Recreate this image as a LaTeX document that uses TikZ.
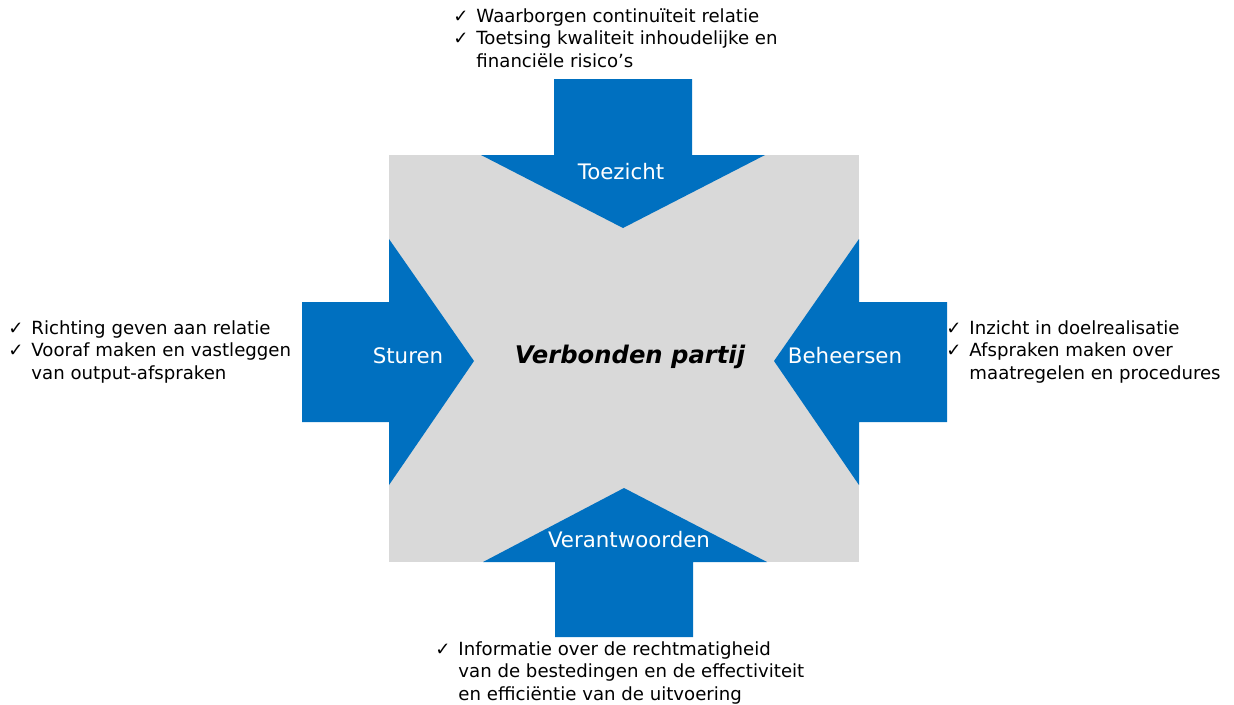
\documentclass[tikz,border=0pt]{standalone}
\usepackage{fontspec}
\setmainfont{DejaVu Sans}
\definecolor{arrblue}{HTML}{0070C0}
\definecolor{boxgray}{HTML}{D9D9D9}
\begin{document}
\begin{tikzpicture}[x=0.75pt,y=-0.75pt,
  arrowshape/.style={fill=arrblue,draw=none},
  lbl/.style={text=white,font=\fontsize{16}{19}\selectfont,inner sep=0pt},
  listtxt/.style={anchor=north west,inner sep=0pt,align=left,font=\fontsize{13.6}{16.9}\selectfont}]
\useasboundingbox (0,0) rectangle (1234,704);
% gray centre
\fill[boxgray] (389,155) rectangle (859,562);
% top arrow
\fill[arrowshape] (554,79) -- (692,79) -- (692,155) -- (765,155) -- (623,228) -- (481,155) -- (554,155) -- cycle;
% bottom arrow
\fill[arrowshape] (555,637) -- (693,637) -- (693,562) -- (767,562) -- (624,488) -- (483,562) -- (555,562) -- cycle;
% left arrow
\fill[arrowshape] (302,302) -- (389,302) -- (389,239) -- (474,361) -- (389,485) -- (389,422) -- (302,422) -- cycle;
% right arrow
\fill[arrowshape] (947,302) -- (859,302) -- (859,239) -- (774,361) -- (859,485) -- (859,422) -- (947,422) -- cycle;
% labels
\node[lbl] (toezicht) at (621,172) {Toezicht};
\node[lbl] (sturen) at (408,356) {Sturen};
\node[lbl] (beheersen) at (845,356) {Beheersen};
\node[lbl] (verant) at (629,540) {Verantwoorden};
\node[inner sep=0pt,font=\fontsize{18.2}{22}\selectfont\bfseries\itshape] (centre) at (630,357) {Verbonden partij};
% lists
\node[listtxt] (toplist) at (453,6) {\begin{tabular}{@{}l@{\hspace{6pt}}l@{}}✓ & Waarborgen continuïteit relatie\\ ✓ & Toetsing kwaliteit inhoudelijke en\\ & financiële risico’s\end{tabular}};
\node[listtxt] (leftlist) at (8,318) {\begin{tabular}{@{}l@{\hspace{6pt}}l@{}}✓ & Richting geven aan relatie\\ ✓ & Vooraf maken en vastleggen\\ & van output-afspraken\end{tabular}};
\node[listtxt] (rightlist) at (946,318) {\begin{tabular}{@{}l@{\hspace{6pt}}l@{}}✓ & Inzicht in doelrealisatie\\ ✓ & Afspraken maken over\\ & maatregelen en procedures\end{tabular}};
\node[listtxt] (botlist) at (435,639) {\begin{tabular}{@{}l@{\hspace{6pt}}l@{}}✓ & Informatie over de rechtmatigheid\\ & van de bestedingen en de effectiviteit\\ & en efficiëntie van de uitvoering\end{tabular}};
\end{tikzpicture}
\end{document}
